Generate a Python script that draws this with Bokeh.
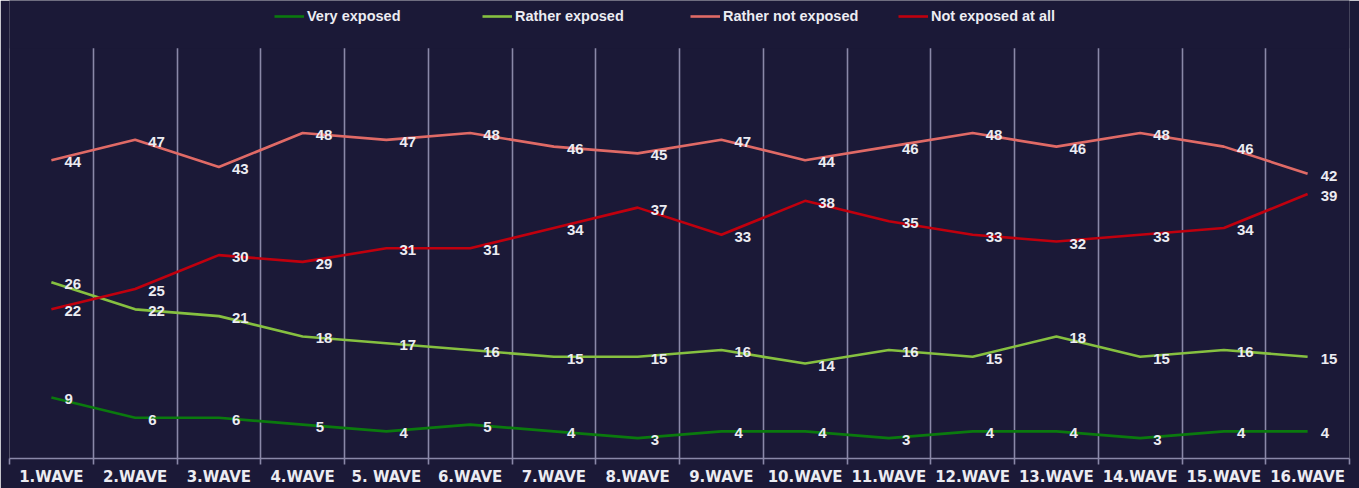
from bokeh.plotting import figure
from bokeh.models import (ColumnDataSource, Range1d, FixedTicker, Legend, LegendItem,
                          BoxAnnotation)
from bokeh.core.properties import value
from bokeh.embed import file_html
from bokeh.resources import INLINE

waves = ["1.WAVE", "2.WAVE", "3.WAVE", "4.WAVE", "5. WAVE", "6.WAVE", "7.WAVE", "8.WAVE",
         "9.WAVE", "10.WAVE", "11.WAVE", "12.WAVE", "13.WAVE", "14.WAVE", "15.WAVE", "16.WAVE"]

very_exposed = [9, 6, 6, 5, 4, 5, 4, 3, 4, 4, 3, 4, 4, 3, 4, 4]
rather_exposed = [26, 22, 21, 18, 17, 16, 15, 15, 16, 14, 16, 15, 18, 15, 16, 15]
rather_not_exposed = [44, 47, 43, 48, 47, 48, 46, 45, 47, 44, 46, 48, 46, 48, 46, 42]
not_exposed_at_all = [22, 25, 30, 29, 31, 31, 34, 37, 33, 38, 35, 33, 32, 33, 34, 39]

series = [
    ("Very exposed", very_exposed, "#0b7a0e"),
    ("Rather exposed", rather_exposed, "#86c040"),
    ("Rather not exposed", rather_not_exposed, "#e06a66"),
    ("Not exposed at all", not_exposed_at_all, "#c0000e"),
]

BG = "#1b1937"
GRID = "#8a88a8"
TEXT = "#ececf2"

n = len(waves)
xs = [i + 0.5 for i in range(n)]
grid_top = 60.5      # where the category dividers stop
view_top = 67.55     # headroom for the legend strip

p = figure(width=1359, height=488, output_backend="svg", toolbar_location=None,
           x_range=Range1d(0, n), y_range=Range1d(0, view_top),
           background_fill_color=BG, border_fill_color=BG,
           min_border_left=9, min_border_right=10, min_border_top=0, min_border_bottom=28)
p.outline_line_color = None

# category boundaries as vertical grid lines
p.xgrid.ticker = FixedTicker(ticks=list(range(n + 1)))
p.xgrid.grid_line_color = GRID
p.xgrid.grid_line_width = 1.6
p.ygrid.grid_line_color = None
p.yaxis.visible = False

ax = p.xaxis[0]
ax.ticker = FixedTicker(ticks=xs, minor_ticks=list(range(n + 1)))
ax.major_label_overrides = {x: w for x, w in zip(xs, waves)}
ax.major_tick_line_color = None
ax.major_tick_out = 0
ax.major_tick_in = 0
ax.minor_tick_line_color = GRID
ax.minor_tick_line_width = 1.6
ax.minor_tick_out = 6
ax.minor_tick_in = 0
ax.axis_line_color = GRID
ax.axis_line_width = 1.6
ax.major_label_standoff = 3
ax.major_label_text_font = "DejaVu Sans"
ax.major_label_text_font_style = "bold"
ax.major_label_text_font_size = "15px"
ax.major_label_text_color = TEXT

# plain strip above the dividers that holds the legend
p.add_layout(BoxAnnotation(bottom=grid_top, fill_color=BG, fill_alpha=1.0,
                           line_color=None))

items = []
for name, vals, color in series:
    src = ColumnDataSource(dict(x=xs, y=vals, t=[str(v) for v in vals]))
    r = p.line("x", "y", source=src, line_color=color, line_width=2.6)
    p.text("x", "y", text="t", source=src, x_offset=13, y_offset=2,
           text_baseline="middle", text_align="left",
           text_font=value("Liberation Sans"), text_font_style="bold",
           text_font_size="15px", text_color=TEXT)
    items.append(LegendItem(label=name, renderers=[r]))

legend = Legend(items=items, orientation="horizontal", location="top_center",
                background_fill_alpha=0, border_line_color=None,
                label_text_color=TEXT, label_text_font="Liberation Sans",
                label_text_font_style="bold", label_text_font_size="14.5px",
                glyph_width=30, glyph_height=16, label_standoff=3,
                label_width=153, spacing=22, padding=6, margin=8)
p.add_layout(legend)

open("out.html", "w").write(file_html(p, INLINE))
